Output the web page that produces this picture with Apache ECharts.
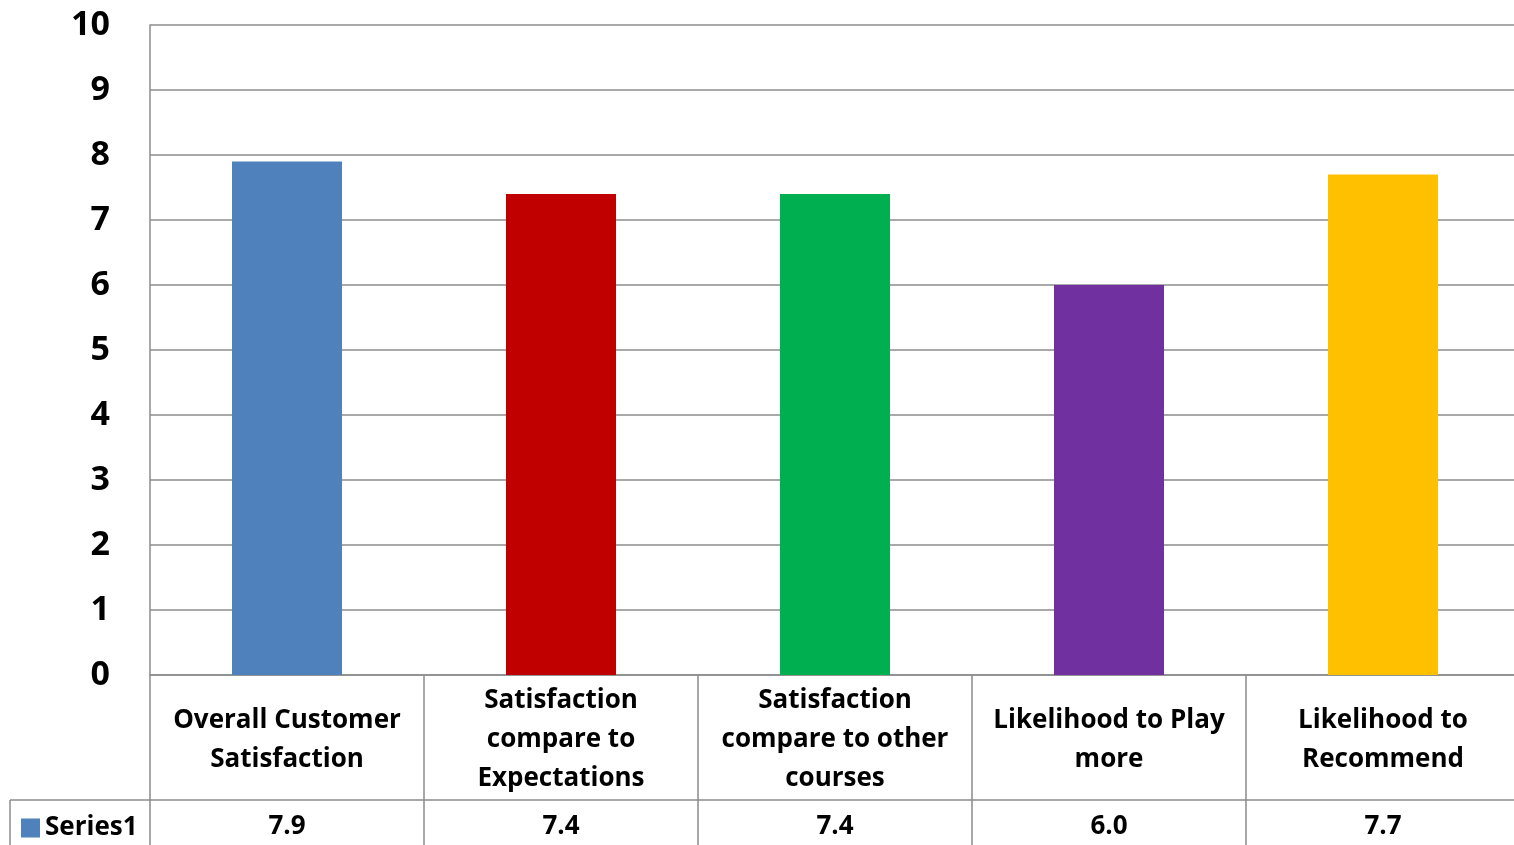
<!DOCTYPE html>
<html>
<head>
<meta charset="utf-8">
<script src="https://cdn.jsdelivr.net/npm/echarts@6/dist/echarts.min.js"></script>
<style>
html,body{margin:0;padding:0;background:#fff;overflow:hidden;}
#container{width:1520px;height:845px;}
</style>
</head>
<body>
<div id="container"></div>
<script>
var categories = ["Overall Customer\nSatisfaction", "Satisfaction\ncompare to\nExpectations", "Satisfaction\ncompare to other\ncourses", "Likelihood to Play\nmore", "Likelihood to\nRecommend"];
var values = [7.9, 7.4, 7.4, 6.0, 7.7];
var barColors = ["#4F81BD", "#C00000", "#00B050", "#7030A0", "#FFC000"];
var yTicks = [0, 10, 1];

var lineGrey = "#8c8c8c";
var font = "'Open Sans', Lato, sans-serif";

var chart = echarts.init(document.getElementById("container"));
var barData = [];
for (var i = 0; i < values.length; i++) {
	barData.push({ value: values[i], itemStyle: { color: barColors[i] } });
}
var valueLabels = values.map(function (v) { return v.toFixed(1); });

var option = {
	animation: false,
	textStyle: { fontFamily: font },
	grid: { left: 150, right: 0, top: 25, bottom: 170 },
	legend: {
		left: 21, top: 815, padding: 0,
		itemWidth: 19, itemHeight: 19, itemGap: 6,
		icon: "rect",
		textStyle: { fontSize: 26, fontWeight: "bold", color: "#000", fontFamily: font },
		data: ["Series1"]
	},
	xAxis: [
		{
			type: "category",
			data: categories,
			position: "bottom",
			axisLine: { show: true, lineStyle: { color: lineGrey, width: 1.5 } },
			axisTick: { show: true, interval: 0, length: 170, lineStyle: { color: lineGrey, width: 1.5 } },
			axisLabel: {
				interval: 0, margin: 65, verticalAlign: "middle",
				fontSize: 26, fontWeight: "bold", color: "#000", lineHeight: 39, fontFamily: font
			}
		},
		{
			type: "category",
			data: valueLabels,
			position: "bottom",
			offset: 125,
			axisLine: { show: true, lineStyle: { color: lineGrey, width: 1.5 } },
			axisTick: { show: false },
			axisLabel: {
				interval: 0, margin: 27, verticalAlign: "middle",
				fontSize: 26, fontWeight: "bold", color: "#000", fontFamily: font
			}
		}
	],
	yAxis: {
		type: "value",
		min: yTicks[0], max: yTicks[1], interval: yTicks[2],
		axisLine: { show: true, lineStyle: { color: lineGrey, width: 1.5 } },
		axisTick: { show: false },
		splitLine: { lineStyle: { color: lineGrey, width: 1.5 } },
		axisLabel: { margin: 40, fontSize: 34, fontWeight: "bold", color: "#000", fontFamily: font }
	},
	graphic: [
		{ type: "line", shape: { x1: 10, y1: 800, x2: 150, y2: 800 }, style: { stroke: lineGrey, lineWidth: 1.5 } },
		{ type: "line", shape: { x1: 10, y1: 800, x2: 10, y2: 845 }, style: { stroke: lineGrey, lineWidth: 1.5 } }
	],
	series: [
		{
			name: "Series1",
			type: "bar",
			xAxisIndex: 0,
			barWidth: 110,
			itemStyle: { color: barColors[0] },
			data: barData
		}
	]
};
chart.setOption(option);
</script>
</body>
</html>
